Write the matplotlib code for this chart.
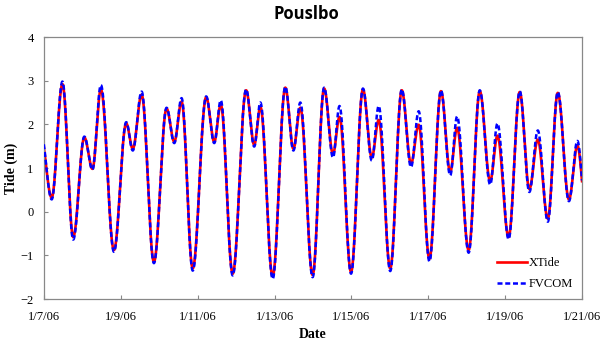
import numpy as np
import matplotlib
matplotlib.use("Agg")
from matplotlib import pyplot as plt
import matplotlib.dates as mdates
from matplotlib.ticker import FuncFormatter
from datetime import datetime

# high / low water: days after 1/7/06 00:00 and heights (m)
ext_day = [-0.08, 0.20, 0.48, 0.76, 1.05, 1.26, 1.48, 1.82, 2.14, 2.31, 2.54, 2.86,
           3.19, 3.39, 3.58, 3.87, 4.22, 4.43, 4.60, 4.91, 5.26, 5.47, 5.63, 5.95,
           6.28, 6.49, 6.67, 6.99, 7.29, 7.52, 7.69, 7.99, 8.30, 8.53, 8.71, 9.01,
           9.31, 9.55, 9.75, 10.03, 10.33, 10.57, 10.75, 11.05, 11.34, 11.61, 11.80,
           12.09, 12.38, 12.63, 12.85, 13.11, 13.37, 13.66, 13.88, 14.10]
xtide = [1.7, 0.32,
         2.92, -0.58, 1.70, 0.98, 2.80, -0.88, 2.02, 1.44, 2.68, -1.15, 2.36, 1.60,
         2.52, -1.30, 2.62, 1.60, 2.45, -1.42, 2.78, 1.53, 2.40, -1.48, 2.84, 1.44,
         2.38, -1.45, 2.82, 1.32, 2.17, -1.38, 2.80, 1.24, 2.10, -1.30, 2.78, 1.10,
         1.99, -1.08, 2.76, 0.91, 1.92, -0.88, 2.76, 0.70, 1.74, -0.58, 2.74, 0.52,
         1.65, -0.16, 2.72, 0.28,
         1.51, 0.10]
fvcom = [1.8, 0.28,
         2.98, -0.64, 1.72, 0.96, 2.90, -0.92, 2.05, 1.40, 2.75, -1.18, 2.38, 1.57,
         2.60, -1.35, 2.64, 1.57, 2.55, -1.46, 2.80, 1.49, 2.50, -1.54, 2.86, 1.40,
         2.50, -1.50, 2.84, 1.24, 2.42, -1.42, 2.82, 1.17, 2.42, -1.36, 2.80, 1.02,
         2.30, -1.14, 2.78, 0.83, 2.18, -0.94, 2.78, 0.62, 2.02, -0.63, 2.76, 0.45,
         1.86, -0.23, 2.74, 0.24,
         1.62, 0.05]

start = datetime(2006, 1, 7)
end = datetime(2006, 1, 21)


def tide_curve(tx, hx, t):
    # half-cosine between successive high and low waters
    tx = np.asarray(tx)
    hx = np.asarray(hx)
    i = np.clip(np.searchsorted(tx, t) - 1, 0, len(tx) - 2)
    f = (t - tx[i]) / (tx[i + 1] - tx[i])
    return hx[i] + (hx[i + 1] - hx[i]) * (1 - np.cos(np.pi * f)) / 2


t = np.linspace(ext_day[0], ext_day[-1], 3000)
x = mdates.date2num(start) + t

fig = plt.figure(figsize=(6.03, 3.45), dpi=100)
ax = fig.add_axes([44 / 603, 1 - 299 / 345, 538 / 603, 262 / 345])

ax.plot(x, tide_curve(ext_day, xtide, t), color='#ff0000', lw=1.9, label='XTide', zorder=2)
ax.plot(x, tide_curve(ext_day, fvcom, t), color='#0000ff', lw=1.8, dashes=(2, 1.1),
        label='FVCOM', zorder=3)

ax.set_xlim(mdates.date2num(start), mdates.date2num(end))
ax.set_ylim(-2, 4)
ax.set_yticks(range(-2, 5))
ax.xaxis.set_major_locator(mdates.DayLocator(interval=2))
ax.xaxis.set_major_formatter(FuncFormatter(
    lambda v, p: '{d.month}/{d.day}/{y}'.format(d=mdates.num2date(v), y=mdates.num2date(v).strftime('%y'))))

serif = 'Liberation Serif'
for lab in ax.get_xticklabels() + ax.get_yticklabels():
    lab.set_fontfamily(serif)
    lab.set_fontsize(9)
ax.tick_params(direction='in', length=3, color='#888888')
ax.tick_params(axis='x', pad=8.5)
ax.tick_params(axis='y', pad=7.5)
for s in ax.spines.values():
    s.set_color('#888888')
    s.set_linewidth(0.9)

ax.set_xlabel('Date', fontfamily=serif, fontweight='bold', fontsize=10, labelpad=4)
ax.set_ylabel('Tide (m)', fontfamily=serif, fontweight='bold', fontsize=10, labelpad=2)
fig.text(306 / 603, 1 - 14 / 345, 'Pouslbo', ha='center', va='center',
         fontfamily='Open Sans', fontweight='bold', fontsize=12)

leg = ax.legend(loc='lower right', frameon=False, handlelength=2.4, handletextpad=0.2,
                labelspacing=0.7, borderaxespad=0.3,
                prop={'family': serif, 'size': 9})

fig.savefig('out.png', dpi=100)
